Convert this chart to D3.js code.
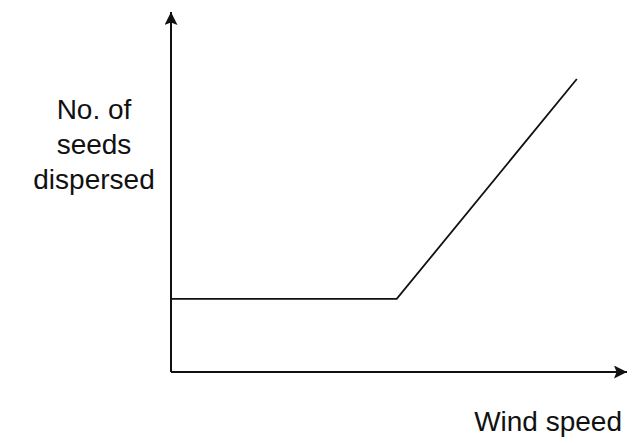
<!DOCTYPE html>
<meta charset="utf-8">
<html>
<head>
    <script src="https://d3js.org/d3.v7.min.js"></script>
    <style>
        body { margin: 0; background: #fff; }
        text { font-family: "Liberation Sans", Arial, sans-serif; fill: #111; }
    </style>
</head>
<body>
    <div id="chart"></div>
    <script>
        // data (arbitrary units, 0-100 on both axes)
        const windSpeed = [0, 49.5, 89];
        const seedsDispersed = [20.3, 20.3, 81.4];
        const yLabelLines = ["No. of", "seeds", "dispersed"];
        const xLabel = "Wind speed";

        const W = 642, H = 443;
        const margin = { top: 12, right: 15, bottom: 71, left: 171 };

        const svg = d3.select("#chart").append("svg")
            .attr("width", W)
            .attr("height", H);

        const x = d3.scaleLinear().domain([0, 100]).range([margin.left, W - margin.right]);
        const y = d3.scaleLinear().domain([0, 100]).range([H - margin.bottom, margin.top]);

        // arrow head marker
        svg.append("defs").append("marker")
            .attr("id", "arrow")
            .attr("viewBox", "0 0 10 10")
            .attr("refX", 10).attr("refY", 5)
            .attr("markerUnits", "userSpaceOnUse")
            .attr("markerWidth", 15).attr("markerHeight", 13)
            .attr("orient", "auto")
            .append("path")
            .attr("d", "M0,0 L10,5 L0,10 L2,5 Z")
            .attr("fill", "#111");

        // axes: plain lines with arrows
        svg.append("line")
            .attr("x1", x(0)).attr("y1", y(0))
            .attr("x2", x(0)).attr("y2", y(100))
            .attr("stroke", "#111").attr("stroke-width", 2)
            .attr("marker-end", "url(#arrow)");
        svg.append("line")
            .attr("x1", x(0)).attr("y1", y(0))
            .attr("x2", x(100)).attr("y2", y(0))
            .attr("stroke", "#111").attr("stroke-width", 2)
            .attr("marker-end", "url(#arrow)");

        // the data line
        const pts = windSpeed.map((d, i) => [d, seedsDispersed[i]]);
        svg.append("path")
            .datum(pts)
            .attr("d", d3.line().x(d => x(d[0])).y(d => y(d[1])))
            .attr("fill", "none")
            .attr("stroke", "#111")
            .attr("stroke-width", 1.8);

        // y label (three centred lines)
        const yl = svg.append("text")
            .attr("text-anchor", "middle")
            .style("font-size", "28px");
        yLabelLines.forEach((t, i) => {
            yl.append("tspan")
                .attr("x", 94)
                .attr("y", 119 + i * 35)
                .text(t);
        });

        // x label
        svg.append("text")
            .attr("x", 622)
            .attr("y", 431)
            .attr("text-anchor", "end")
            .style("font-size", "28px")
            .text(xLabel);
    </script>
</body>
</html>
